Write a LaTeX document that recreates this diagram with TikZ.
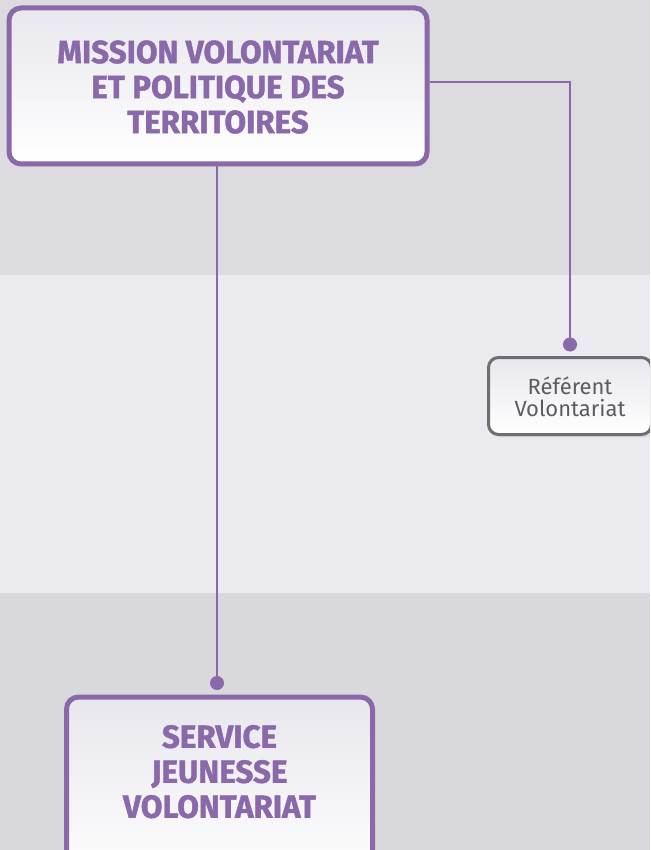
\documentclass[tikz,border=0pt]{standalone}
\usepackage{fontspec}
\setmainfont{Fira Sans}
\newfontfamily\titlefont[FakeStretch=0.98, FakeBold=1.3]{Fira Sans Bold}
\usepackage{xcolor}
\usetikzlibrary{positioning, calc, shadows}
\definecolor{orgpurple}{HTML}{8A69AA}
\definecolor{orggray}{HTML}{6E6E70}
\definecolor{orgtext}{HTML}{5C5C5E}
\definecolor{bandtop}{HTML}{DCDBE0}
\definecolor{bandmid}{HTML}{EBEAEF}
\definecolor{bandlow}{HTML}{D9D8DD}
\definecolor{boxtop}{HTML}{E8E7ED}

\begin{document}
\begin{tikzpicture}[
  x=1pt, y=-1pt,
  orgbox/.style={
    rounded corners=12pt,
    top color=boxtop,
    bottom color=white,
    inner sep=0pt,
    drop shadow={opacity=0.12, shadow xshift=2pt, shadow yshift=-3pt}
  },
  unitbox/.style={orgbox, draw=orgpurple, line width=5pt},
  postbox/.style={orgbox, draw=orggray, line width=3pt, rounded corners=10pt},
  unitlabel/.style={font=\titlefont\fontsize{32}{35}\selectfont, text=orgpurple, align=center},
  postlabel/.style={font=\fontsize{22}{22}\selectfont, text=orgtext, align=center},
  link/.style={draw=orgpurple, line width=2.5pt},
  joint/.style={fill=orgpurple, radius=7pt}
]

\useasboundingbox (0,0) rectangle (650,850);
\clip (0,0) rectangle (650,850);

% background bands
\fill[bandtop] (0,0) rectangle (650,275);
\fill[bandmid] (0,275) rectangle (650,593);
\fill[bandlow] (0,593) rectangle (650,850);

% boxes
\node[unitbox, minimum width=418pt, minimum height=156pt] (main) at (218,86) {};
\node[unitlabel] (maintext) at ([yshift=-1pt]main.center)
  {MISSION VOLONTARIAT\\ET POLITIQUE DES\\TERRITOIRES};

\node[postbox, minimum width=163pt, minimum height=77pt] (ref) at (570,396) {};
\node[postlabel] (reftext) at ([yshift=-1pt]ref.center) {Référent\\Volontariat};

\node[unitbox, minimum width=306pt, minimum height=190pt, anchor=north] (svc) at (219.5,694.5) {};
\node[unitlabel, anchor=north] (svctext) at ([yshift=-27pt]svc.north) {SERVICE\\JEUNESSE\\VOLONTARIAT};

% connectors
\coordinate (refdot) at ([yshift=11.5pt]ref.north);
\coordinate (svcdot) at ([xshift=-2.5pt,yshift=11.5pt]svc.north);

\draw[link] ([yshift=4pt]main.east) -| (refdot);
\draw[link] (main.south -| svcdot) -- (svcdot);
\fill[joint] (refdot) circle;
\fill[joint] (svcdot) circle;

\end{tikzpicture}
\end{document}
